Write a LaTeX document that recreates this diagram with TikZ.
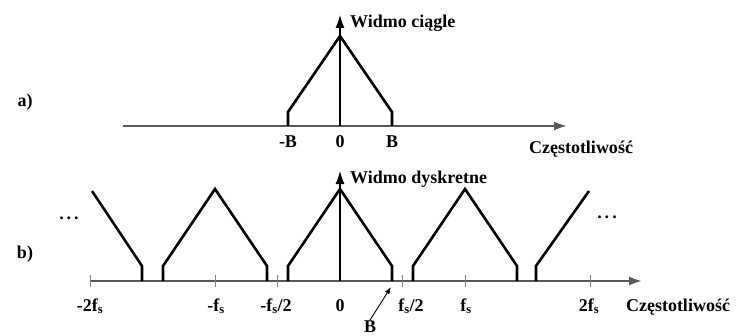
\documentclass[tikz,border=0pt]{standalone}
\usepackage{fontspec}
\setmainfont{Liberation Serif}
\usetikzlibrary{arrows.meta}

\tikzset{
  axis/.style={draw=black!65, line width=2pt},
  yaxis/.style={draw=black, line width=1.2pt},
  spec/.style={draw=black, line width=2.6pt, line join=miter},
  tick/.style={draw=black!50, line width=0.8pt},
  lbl/.style={font=\bfseries\fontsize{18}{20}\selectfont, inner sep=0pt, anchor=base},
  dots/.style={font=\bfseries\fontsize{18}{20}\selectfont, inner sep=0pt},
}

\begin{document}
\begin{tikzpicture}[x=1pt,y=1pt,>={Latex[length=13pt,width=9pt]}]
  \useasboundingbox (0,0) rectangle (738,335);
  % a) continuous spectrum
  \begin{scope}[shift={(340,209)}]
    \draw[axis,->] (-217,0) -- (227,0);
    \draw[yaxis,->] (0,0) -- (0,111);
    \draw[spec] (-52,0) -- (-52,14) -- (0,90) -- (52,14) -- (52,0);
    \node[lbl] (amB) at (-52,-22) {-B};
    \node[lbl] (azero) at (0,-22) {0};
    \node[lbl] (aB) at (52,-22) {B};
    \node[lbl] (afreq) at (241,-28) {Częstotliwość};
    \node[lbl,anchor=base west] (atitle) at (10,98) {Widmo ciągle};
    \node[lbl] (apanel) at (-315,19) {a)};
  \end{scope}
  % b) discrete (sampled) spectrum
  \begin{scope}[shift={(340,54)}]
    \draw[axis,->] (-250,0) -- (302,0);
    \draw[yaxis,->] (0,0) -- (0,110);
    \foreach \t in {-250,-125,-62.5,62.5,125,250}{\draw[tick] (\t,-6) -- (\t,6);}
    \foreach \c in {-125,0,125}{\draw[spec] ({\c-52},0) -- ({\c-52},15) -- (\c,92) -- ({\c+52},15) -- ({\c+52},0);}
    \draw[spec] (-248,90) -- (-198,15) -- (-198,0);
    \draw[spec] (249,90) -- (196,15) -- (196,0);
    \node[dots] (ldots) at (-271,63) {.\,.\,.};
    \node[dots] (rdots) at (267,64) {.\,.\,.};
    \node[lbl] (bm2fs) at (-250,-30) {-2f\textsubscript{s}};
    \node[lbl] (bmfs) at (-124,-30) {-f\textsubscript{s}};
    \node[lbl] (bmhalf) at (-64,-30) {-f\textsubscript{s}/2};
    \node[lbl] (bzero) at (0,-30) {0};
    \node[lbl] (bhalf) at (71,-30) {f\textsubscript{s}/2};
    \node[lbl] (bfs) at (126,-30) {f\textsubscript{s}};
    \node[lbl] (b2fs) at (249,-30) {2f\textsubscript{s}};
    \node[lbl] (bfreq) at (338,-30) {Częstotliwość};
    \node[lbl,anchor=base west] (btitle) at (10,98) {Widmo dyskretne};
    \node[lbl] (bpanel) at (-315,23) {b)};
    % bandwidth marker
    \coordinate (bfoot) at (51,-6);
    \node[lbl] (bB) at (30,-51) {B};
    \draw[line width=0.9pt,-{Latex[length=7pt,width=5pt]}] (bB.north) -- (bfoot);
  \end{scope}
\end{tikzpicture}
\end{document}
